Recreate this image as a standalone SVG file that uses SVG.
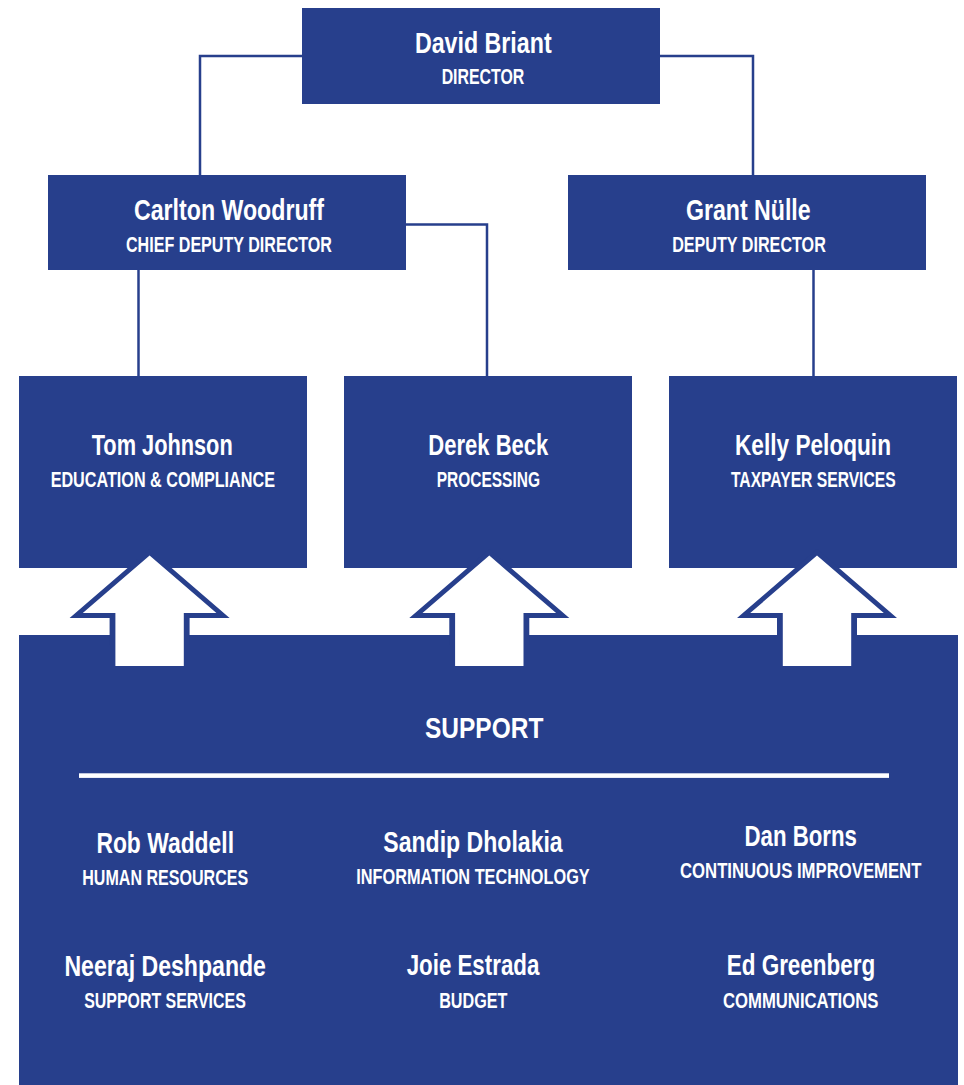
<svg xmlns="http://www.w3.org/2000/svg" width="964" height="1085" viewBox="0 0 964 1085">
<style>
.box{fill:#273f8c}
.conn{fill:none;stroke:#273f8c;stroke-width:2.5}
text{font-family:"Liberation Sans Narrow","Liberation Sans",Arial,sans-serif;font-weight:bold;fill:#ffffff;text-anchor:middle}
.nm{font-size:30px}
.tt{font-size:22px}
.ao{fill:#273f8c}
.ai{fill:#ffffff}
</style>
<rect width="964" height="1085" fill="#ffffff"/>
<g id="connectors">
<polyline class="conn" points="302,56 200,56 200,175"/>
<polyline class="conn" points="660,56 753,56 753,175"/>
<polyline class="conn" points="406,224.5 487,224.5 487,376"/>
<line class="conn" x1="138.5" y1="270" x2="138.5" y2="376"/>
<line class="conn" x1="813.5" y1="270" x2="813.5" y2="376"/>
</g>
<g id="director">
<rect class="box" x="302" y="8" width="358" height="96"/>
<text class="nm" x="483.3" y="53.3" textLength="136.7" lengthAdjust="spacingAndGlyphs">David Briant</text>
<text class="tt" x="483" y="84.3" textLength="82.7" lengthAdjust="spacingAndGlyphs">DIRECTOR</text>
</g>
<g id="carlton">
<rect class="box" x="48" y="175" width="358" height="95"/>
<text class="nm" x="229" y="220" textLength="190" lengthAdjust="spacingAndGlyphs">Carlton Woodruff</text>
<text class="tt" x="229" y="251.7" textLength="206" lengthAdjust="spacingAndGlyphs">CHIEF DEPUTY DIRECTOR</text>
</g>
<g id="grant">
<rect class="box" x="568" y="175" width="358" height="95"/>
<text class="nm" x="748.3" y="220" textLength="124.7" lengthAdjust="spacingAndGlyphs">Grant Nülle</text>
<text class="tt" x="749" y="251.7" textLength="153.7" lengthAdjust="spacingAndGlyphs">DEPUTY DIRECTOR</text>
</g>
<g id="tom">
<rect class="box" x="19" y="376" width="288" height="192"/>
<text class="nm" x="162.2" y="455" textLength="141" lengthAdjust="spacingAndGlyphs">Tom Johnson</text>
<text class="tt" x="162.8" y="486.7" textLength="224.3" lengthAdjust="spacingAndGlyphs">EDUCATION &amp; COMPLIANCE</text>
</g>
<g id="derek">
<rect class="box" x="344" y="376" width="288" height="192"/>
<text class="nm" x="488.3" y="455" textLength="120" lengthAdjust="spacingAndGlyphs">Derek Beck</text>
<text class="tt" x="488.3" y="486.7" textLength="103.3" lengthAdjust="spacingAndGlyphs">PROCESSING</text>
</g>
<g id="kelly">
<rect class="box" x="669" y="376" width="288" height="192"/>
<text class="nm" x="813" y="455" textLength="156" lengthAdjust="spacingAndGlyphs">Kelly Peloquin</text>
<text class="tt" x="813.3" y="486.7" textLength="164.7" lengthAdjust="spacingAndGlyphs">TAXPAYER SERVICES</text>
</g>
<g id="support">
<rect class="box" x="19" y="635" width="939" height="450"/>
<text class="nm" x="484.2" y="738.3" textLength="118.3" lengthAdjust="spacingAndGlyphs">SUPPORT</text>
<rect x="79" y="773.3" width="810" height="4.6" fill="#ffffff"/>
<text class="nm" x="165.2" y="852.7" textLength="137.6" lengthAdjust="spacingAndGlyphs">Rob Waddell</text>
<text class="tt" x="165.2" y="885" textLength="165.9" lengthAdjust="spacingAndGlyphs">HUMAN RESOURCES</text>
<text class="nm" x="473" y="851.7" textLength="179.4" lengthAdjust="spacingAndGlyphs">Sandip Dholakia</text>
<text class="tt" x="473" y="884" textLength="233.4" lengthAdjust="spacingAndGlyphs">INFORMATION TECHNOLOGY</text>
<text class="nm" x="800.7" y="845.7" textLength="112.4" lengthAdjust="spacingAndGlyphs">Dan Borns</text>
<text class="tt" x="800.7" y="878.3" textLength="241.4" lengthAdjust="spacingAndGlyphs">CONTINUOUS IMPROVEMENT</text>
<text class="nm" x="165.2" y="975.7" textLength="201.5" lengthAdjust="spacingAndGlyphs">Neeraj Deshpande</text>
<text class="tt" x="165" y="1007.7" textLength="161.5" lengthAdjust="spacingAndGlyphs">SUPPORT SERVICES</text>
<text class="nm" x="473" y="975" textLength="132.7" lengthAdjust="spacingAndGlyphs">Joie Estrada</text>
<text class="tt" x="473.3" y="1007.7" textLength="68.2" lengthAdjust="spacingAndGlyphs">BUDGET</text>
<text class="nm" x="801" y="975" textLength="148.6" lengthAdjust="spacingAndGlyphs">Ed Greenberg</text>
<text class="tt" x="800.7" y="1007.7" textLength="155.4" lengthAdjust="spacingAndGlyphs">COMMUNICATIONS</text>
</g>
<g id="arrow-tom" transform="translate(149.6,0)">
<polygon class="ao" points="0,549 80,618 40,618 40,645 -40,645 -40,618 -80,618"/>
<polygon class="ai" points="0,555.6 66.8,613 34.2,613 34.2,666 -34.2,666 -34.2,613 -66.8,613"/>
</g>
<g id="arrow-derek" transform="translate(489.3,0)">
<polygon class="ao" points="0,549 80,618 40,618 40,645 -40,645 -40,618 -80,618"/>
<polygon class="ai" points="0,555.6 66.8,613 34.2,613 34.2,666 -34.2,666 -34.2,613 -66.8,613"/>
</g>
<g id="arrow-kelly" transform="translate(817,0)">
<polygon class="ao" points="0,549 80,618 40,618 40,645 -40,645 -40,618 -80,618"/>
<polygon class="ai" points="0,555.6 66.8,613 34.2,613 34.2,666 -34.2,666 -34.2,613 -66.8,613"/>
</g>
</svg>
